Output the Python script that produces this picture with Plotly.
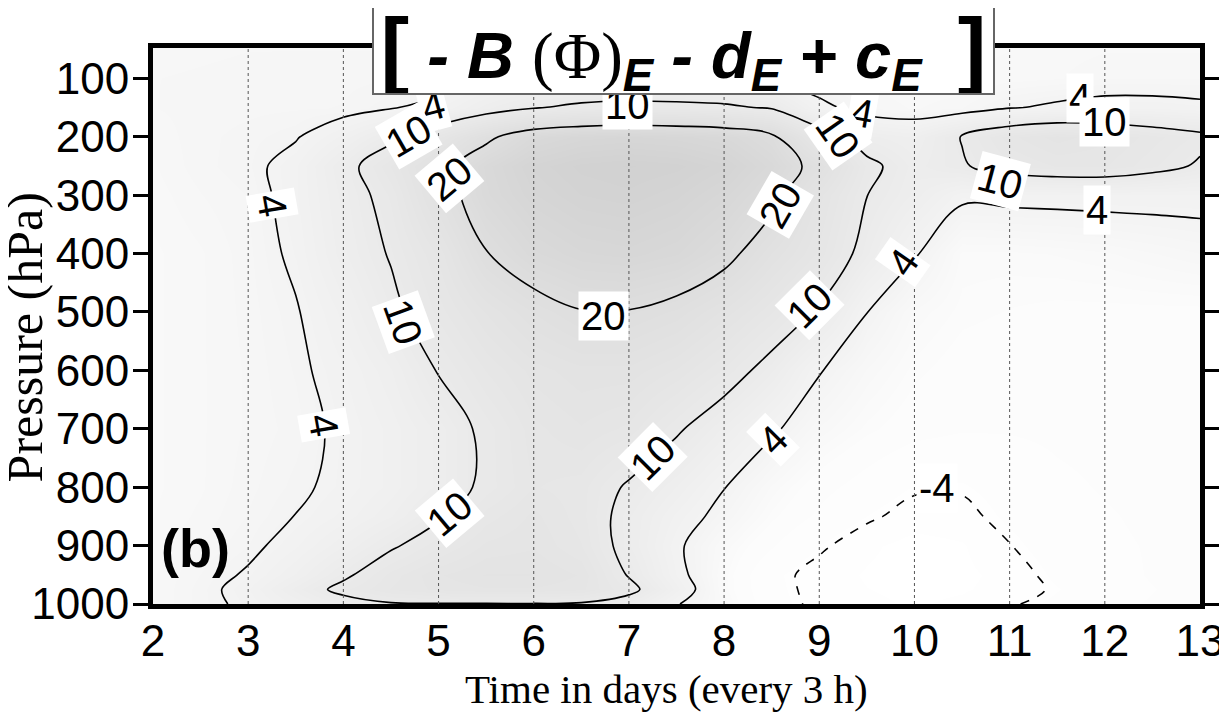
import plotly.graph_objects as go

# Time axis (days) and pressure levels (hPa)
days = [2.0, 2.5, 3.0, 3.5, 4.0, 4.5, 5.0, 5.5, 6.0, 6.5, 7.0, 7.5, 8.0,
        8.5, 9.0, 9.5, 10.0, 10.5, 11.0, 11.5, 12.0, 12.5, 13.0]
pressure = [1000, 975, 950, 900, 850, 800, 700, 600, 500, 400, 300, 250, 200, 150, 100, 50]

# Field values, one row per pressure level (estimated from the figure)
p1000 = [2.0, 3.2, 4.6, 6.5, 8.5, 9.7, 9.8, 9.8, 9.8, 9.6, 8.0, 4.2, 1.5, -2.5, -4.8, -5.5, -6.0, -5.5, -4.3, -3.0, -1.5, -1.0, -0.5]
p975 = [2.0, 3.2, 5.0, 8.0, 11.0, 13.0, 14.0, 14.5, 14.5, 14.0, 11.2, 6.0, 1.0, -2.8, -5.0, -5.8, -6.2, -6.0, -5.2, -3.6, -2.0, -1.2, -0.6]
p950 = [2.0, 3.0, 4.3, 6.5, 9.3, 12.5, 14.5, 15.5, 15.5, 14.5, 9.7, 5.0, 1.0, -3.0, -5.0, -6.0, -6.5, -6.2, -5.3, -3.0, -1.8, -1.0, -0.5]
p900 = [1.8, 2.5, 3.4, 5.0, 7.0, 9.5, 12.0, 14.0, 14.5, 13.0, 8.5, 4.5, 1.5, -1.0, -3.5, -5.5, -6.5, -6.0, -4.1, -2.2, -1.5, -1.0, -0.5]
p850 = [1.6, 2.2, 3.0, 4.05, 5.3, 7.0, 9.5, 12.5, 14.0, 12.5, 8.5, 5.5, 3.0, 0.5, -1.5, -3.5, -5.0, -4.8, -3.0, -2.0, -1.3, -0.8, -0.5]
p800 = [1.5, 2.0, 2.8, 3.6, 4.6, 6.0, 8.0, 10.8, 13.0, 12.5, 9.5, 7.0, 4.1, 1.5, -0.5, -2.0, -3.6, -3.7, -2.5, -1.5, -1.0, -0.6, -0.4]
p700 = [1.5, 2.0, 2.6, 3.2, 4.5, 6.0, 8.0, 10.8, 13.5, 14.5, 13.5, 10.5, 7.5, 4.5, 2.0, 0.5, -0.5, -1.0, -1.0, -0.8, -0.6, -0.4, -0.3]
p600 = [1.5, 2.0, 2.6, 3.5, 5.0, 7.0, 10.2, 13.0, 15.0, 16.0, 16.0, 14.5, 12.0, 8.5, 4.2, 2.0, 0.5, -0.3, -0.5, -0.5, -0.4, -0.3, -0.2]
p500 = [1.5, 2.0, 2.7, 3.8, 6.0, 9.0, 12.5, 15.5, 18.0, 19.8, 19.8, 18.5, 16.0, 13.0, 9.5, 4.05, 1.5, 0.5, 0.2, 0.0, 0.0, 0.0, 0.0]
p400 = [1.5, 2.0, 2.8, 4.5, 7.5, 10.3, 14.0, 19.8, 23.0, 24.5, 25.0, 24.0, 21.5, 17.0, 13.5, 8.5, 4.3, 1.0, 1.0, 1.2, 1.5, 2.0, 2.5]
p300 = [1.8, 2.5, 3.0, 5.0, 8.0, 11.5, 17.5, 23.0, 26.0, 27.5, 28.0, 27.0, 25.0, 21.5, 15.0, 10.05, 7.5, 4.6, 4.8, 4.9, 5.0, 5.0, 5.0]
p250 = [2.0, 2.8, 3.3, 5.0, 8.5, 13.0, 18.0, 23.5, 27.0, 28.5, 29.0, 28.5, 27.0, 23.5, 18.0, 11.0, 8.0, 9.6, 12.0, 13.0, 13.0, 11.5, 9.5]
p200 = [2.2, 2.8, 3.2, 3.8, 6.0, 9.0, 13.5, 18.8, 23.5, 25.0, 25.5, 25.0, 24.0, 21.0, 12.5, 8.0, 7.0, 10.2, 13.5, 15.0, 14.0, 12.5, 11.0]
p150 = [2.5, 2.7, 2.8, 2.9, 3.0, 3.8, 5.0, 7.5, 9.7, 11.0, 11.5, 11.3, 10.8, 9.5, 5.0, 2.5, 2.0, 2.5, 3.8, 4.5, 5.0, 5.0, 4.6]
p100 = [2.5, 2.6, 2.7, 2.8, 2.8, 2.9, 2.5, 4.3, 4.6, 4.8, 4.8, 4.7, 4.5, 4.2, 2.0, 2.0, 1.5, 1.5, 1.8, 2.0, 2.5, 2.5, 2.5]
p50 = [2.3, 2.4, 2.5, 2.5, 2.5, 2.5, 2.5, 3.0, 3.2, 3.3, 3.3, 3.2, 3.0, 2.8, 2.0, 1.8, 1.5, 1.5, 1.6, 1.8, 2.0, 2.0, 2.0]

field = [p1000, p975, p950, p900, p850, p800, p700, p600, p500, p400, p300, p250, p200, p150, p100, p50]

solid_levels = [4, 10, 20]
dashed_levels = [-4]

# contour labels: text, day, pressure, rotation
label_text = ["4", "4", "4", "4", "4", "4", "4", "4", "-4",
              "10", "10", "10", "10", "10", "10", "10", "10", "10",
              "20", "20", "20"]
label_day = [3.25, 4.94, 3.79, 8.51, 9.88, 9.45, 11.74, 11.92, 10.24,
             4.68, 6.98, 9.2, 4.63, 5.12, 7.25, 8.9, 10.9, 12.0,
             5.12, 6.73, 8.59]
label_p = [317, 148, 694, 719, 415, 160, 133, 326, 802,
           198, 146, 198, 517, 844, 748, 488, 275, 175,
           271, 507, 317]
label_angle = [80, -15, 80, -45, -55, 10, 0, 0, 0,
               -30, 0, 55, 70, -40, -45, -45, 15, 0,
               -40, 0, -60]

x_ticks = [2, 3, 4, 5, 6, 7, 8, 9, 10, 11, 12, 13]
y_ticks = [100, 200, 300, 400, 500, 600, 700, 800, 900, 1000]

SANS = "Liberation Sans, Arial, Helvetica, sans-serif"
SERIF = "Liberation Serif, Times New Roman, serif"

fig = go.Figure()

fig.add_trace(go.Heatmap(
    x=days, y=pressure, z=field, zsmooth="best",
    zmin=-7, zmax=30, showscale=False, hoverinfo="skip",
    colorscale=[[0.0, "#ffffff"], [0.19, "#fcfcfc"], [0.30, "#f3f3f3"],
                [0.46, "#eaeaea"], [0.73, "#dedede"], [1.0, "#d0d0d0"]],
))

for lev in solid_levels:
    fig.add_trace(go.Contour(
        x=days, y=pressure, z=field, showscale=False, hoverinfo="skip",
        contours=dict(start=lev, end=lev, size=1, coloring="none", showlabels=False),
        line=dict(color="black", width=1.6),
    ))

for lev in dashed_levels:
    fig.add_trace(go.Contour(
        x=days, y=pressure, z=field, showscale=False, hoverinfo="skip",
        contours=dict(start=lev, end=lev, size=1, coloring="none", showlabels=False),
        line=dict(color="black", width=1.6, dash="dash"),
    ))

# dotted vertical grid lines at interior day ticks
for d in x_ticks[1:-1]:
    fig.add_shape(type="line", xref="x", yref="paper", x0=d, x1=d, y0=0, y1=1,
                  line=dict(color="#555555", width=1, dash="dot"), layer="above")

# contour labels with white boxes
for t, d, p, a in zip(label_text, label_day, label_p, label_angle):
    fig.add_annotation(
        text=t, x=d, y=p, xref="x", yref="y", showarrow=False,
        textangle=a, bgcolor="white", borderpad=2,
        font=dict(family=SANS, size=40, color="black"),
    )

nb = "\u00a0"
title_text = (
    '<span style="font-size:86px"><b>[</b></span>' + nb +
    '<b><i>- B</i></b>' + nb +
    '<span style="font-family:Liberation Serif">(Φ)</span>'
    '<sub><b><i>E</i></b></sub>' + nb +
    '<b><i>- d</i></b><sub><b><i>E</i></b></sub>' + nb +
    '<b><i>+ c</i></b><sub><b><i>E</i></b></sub>' + nb + nb +
    '<span style="font-size:86px"><b>]</b></span>'
)

fig.add_annotation(
    text=title_text, xref="paper", yref="paper", x=0.5067, y=0.996,
    xanchor="center", yanchor="middle", showarrow=False,
    font=dict(family=SANS, size=65, color="black"),
    bgcolor="white", bordercolor="#666666", borderwidth=2, borderpad=0,
    width=619, height=85,
)

fig.add_annotation(
    text="<b>(b)</b>", xref="paper", yref="paper", x=0.006, y=0.10,
    xanchor="left", yanchor="middle", showarrow=False,
    font=dict(family=SANS, size=54, color="black"),
)

# axis titles
fig.add_annotation(
    text="Time in days (every 3 h)", xref="paper", yref="paper",
    x=0.49, y=-0.153, xanchor="center", yanchor="middle", showarrow=False,
    font=dict(family=SERIF, size=41, color="black"),
)
fig.add_annotation(
    text="Pressure (hPa)", xref="paper", yref="paper",
    x=-0.122, y=0.48, xanchor="center", yanchor="middle", showarrow=False,
    textangle=-90, font=dict(family=SERIF, size=50, color="black"),
)

fig.update_xaxes(
    range=[2, 13], tickvals=x_ticks, ticktext=[str(v) for v in x_ticks],
    ticks="", ticklabelstandoff=-6,
    tickfont=dict(family=SANS, size=44, color="black"),
    showline=True, linecolor="black", linewidth=5, mirror=True,
    showgrid=False, zeroline=False, automargin=False,
)
fig.update_yaxes(
    range=[1000, 48], tickvals=y_ticks, ticktext=[str(v) for v in y_ticks],
    ticks="outside", ticklen=15, tickwidth=3, tickcolor="black",
    ticklabelstandoff=-5,
    tickfont=dict(family=SANS, size=44, color="black"),
    showline=True, linecolor="black", linewidth=5, mirror="allticks",
    showgrid=False, zeroline=False, automargin=False,
)

# the page adds an 8 px body margin, so the figure is drawn 8 px smaller
fig.update_layout(
    width=1219, height=709, autosize=False,
    margin=dict(l=145, r=27, t=40, b=113),
    paper_bgcolor="white", plot_bgcolor="white",
    showlegend=False,
)

fig.write_html("out.html")
